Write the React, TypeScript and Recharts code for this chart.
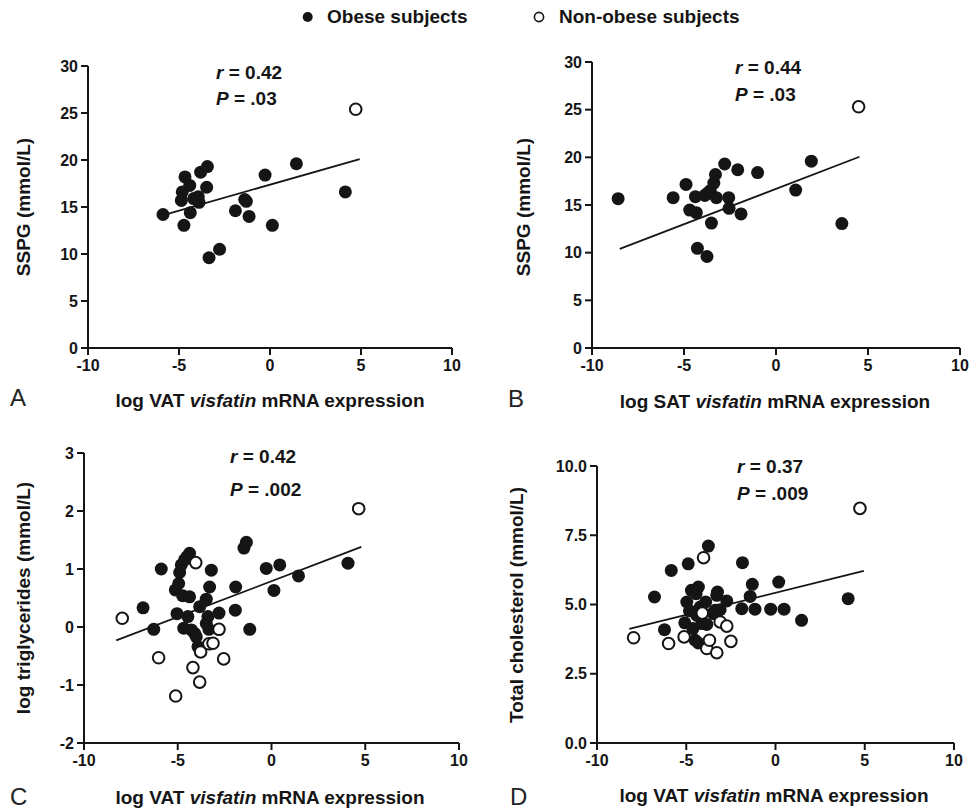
import { ScatterChart, Scatter, XAxis, YAxis, ReferenceLine } from 'recharts'

const FONT = '"Liberation Sans", Arial, sans-serif'
const INK = '#151515'

type Pt = { x: number; y: number }
const pts = (rows: number[][]): Pt[] => rows.map(([x, y]) => ({ x, y }))

const xTicks = [-10, -5, 0, 5, 10]

// A: SSPG vs log VAT visfatin
const aObese = pts([
  [-5.88, 14.2], [-4.73, 13.05], [-4.87, 15.7], [-4.82, 16.6], [-4.67, 18.2], [-4.41, 17.3],
  [-4.38, 14.4], [-4.19, 15.9], [-3.94, 16.1], [-3.9, 15.5], [-3.81, 18.7], [-3.44, 19.3],
  [-3.48, 17.1], [-3.35, 9.6], [-2.77, 10.5], [-1.9, 14.6], [-1.39, 15.8], [-1.3, 15.6],
  [-1.15, 14.0], [-0.27, 18.4], [0.13, 13.05], [1.45, 19.6], [4.14, 16.6],
])
const aNonObese = pts([[4.71, 25.4]])
const aFit = pts([[-6.1, 14.0], [4.93, 20.1]])

// B: SSPG vs log SAT visfatin
const bObese = pts([
  [-8.58, 15.66], [-5.59, 15.77], [-4.89, 17.16], [-4.69, 14.47], [-4.38, 15.87], [-4.33, 14.2],
  [-4.27, 10.46], [-3.87, 16.0], [-3.75, 9.6], [-3.57, 16.5], [-3.51, 13.1], [-3.38, 17.3],
  [-3.29, 18.2], [-3.24, 15.77], [-3.75, 16.2], [-2.79, 19.3], [-2.57, 15.77], [-2.55, 14.65],
  [-2.08, 18.7], [-1.9, 14.06], [-1.0, 18.4], [1.07, 16.57], [1.92, 19.6], [3.58, 13.05],
])
const bNonObese = pts([[4.49, 25.3]])
const bFit = pts([[-8.49, 10.39], [4.54, 20.06]])

// C: log triglycerides vs log VAT visfatin
const cObese = pts([
  [-6.85, 0.33], [-6.28, -0.04], [-5.88, 1.0], [-5.13, 0.64], [-5.04, 0.23], [-4.95, 0.75],
  [-4.9, 0.94], [-4.81, 1.07], [-4.74, 0.54], [-4.68, -0.02], [-4.63, 1.16], [-4.51, 1.21],
  [-4.46, 0.18], [-4.37, 1.27], [-4.37, 0.52], [-4.27, -0.05], [-4.1, -0.11], [-4.01, -0.17],
  [-3.92, -0.34], [-3.83, 0.35], [-3.48, 0.48], [-3.39, 0.18], [-3.48, 0.06], [-3.34, -0.04],
  [-3.3, 0.69], [-3.21, 0.98], [-2.8, 0.24], [-1.93, 0.29], [-1.91, 0.69], [-1.47, 1.36],
  [-1.34, 1.46], [-1.16, -0.04], [-0.28, 1.01], [0.13, 0.63], [0.44, 1.07], [1.44, 0.88],
  [4.08, 1.1],
])
const cNonObese = pts([
  [-7.96, 0.15], [-6.02, -0.53], [-5.11, -1.19], [-4.19, -0.7], [-4.04, 1.11], [-3.83, -0.95],
  [-3.78, -0.43], [-3.34, -0.29], [-3.12, -0.28], [-2.8, -0.04], [-2.55, -0.55], [4.65, 2.04],
])
const cFit = pts([[-8.28, -0.23], [4.79, 1.38]])

// D: total cholesterol vs log VAT visfatin
const dObese = pts([
  [-6.78, 5.27], [-6.22, 4.09], [-5.84, 6.23], [-5.08, 4.34], [-4.97, 5.09], [-4.89, 6.47],
  [-4.82, 4.77], [-4.71, 5.51], [-4.63, 4.13], [-4.5, 3.71], [-4.45, 5.39], [-4.32, 5.63],
  [-4.32, 3.61], [-4.41, 4.61], [-4.22, 4.91], [-4.13, 4.31], [-3.91, 5.09], [-3.85, 4.28],
  [-3.76, 7.11], [-3.48, 4.67], [-3.38, 4.79], [-3.29, 5.33], [-3.25, 5.45], [-3.1, 4.81],
  [-2.73, 5.13], [-1.85, 6.51], [-1.89, 4.85], [-1.42, 5.29], [-1.3, 5.73], [-1.15, 4.83],
  [-0.27, 4.83], [0.18, 5.81], [0.48, 4.83], [1.46, 4.43], [4.07, 5.21],
])
const dNonObese = pts([
  [-7.95, 3.8], [-5.99, 3.59], [-5.12, 3.83], [-4.1, 4.69], [-4.03, 6.69], [-3.85, 3.41],
  [-3.7, 3.71], [-3.29, 3.26], [-3.1, 4.37], [-2.73, 4.22], [-2.5, 3.67], [4.73, 8.47],
])
const dFit = pts([[-8.19, 4.12], [4.95, 6.21]])

const filledDot = (p: any) => <circle cx={p.cx} cy={p.cy} r={6.5} fill={INK} />
const openDot = (p: any) => (
  <circle cx={p.cx} cy={p.cy} r={5.8} fill="#fff" stroke={INK} strokeWidth={2} />
)

type Box = { x0: number; x1: number; y0: number; y1: number }

function Panel(props: {
  box: Box
  yDomain: [number, number]
  yTicks: number[]
  yFmt?: (v: number) => string
  obese: Pt[]
  nonObese: Pt[]
  fit: Pt[]
}) {
  const { box, yDomain, yTicks, yFmt, obese, nonObese, fit } = props
  // plot area lands on box: 60px y-axis on the left, 40px x-axis below
  const W = box.x1 - box.x0 + 60 + 20
  const H = box.y1 - box.y0 + 12 + 40
  const tick = { fontSize: 16, fontWeight: 700, fill: INK, fontFamily: FONT }
  const line = { stroke: INK, strokeWidth: 2 }
  return (
    <div style={{ position: 'absolute', left: box.x0 - 60, top: box.y0 - 12 }}>
      <ScatterChart width={W} height={H} margin={{ top: 12, right: 20, bottom: 0, left: 0 }}>
        <XAxis
          type="number"
          dataKey="x"
          domain={[-10, 10]}
          ticks={xTicks}
          height={40}
          tick={tick}
          tickSize={7}
          tickMargin={5}
          axisLine={line}
          tickLine={line}
          allowDataOverflow
        />
        <YAxis
          type="number"
          dataKey="y"
          domain={yDomain}
          ticks={yTicks}
          width={60}
          tick={tick}
          tickSize={7}
          tickMargin={3}
          tickFormatter={yFmt}
          axisLine={line}
          tickLine={line}
          allowDataOverflow
        />
        <ReferenceLine segment={fit} stroke={INK} strokeWidth={1.8} ifOverflow="visible" />
        <Scatter data={obese} shape={filledDot} isAnimationActive={false} />
        <Scatter data={nonObese} shape={openDot} isAnimationActive={false} />
      </ScatterChart>
    </div>
  )
}

const txt = (extra: React.CSSProperties): React.CSSProperties => ({
  position: 'absolute',
  fontFamily: FONT,
  fontWeight: 700,
  fontSize: 19,
  color: INK,
  whiteSpace: 'nowrap',
  lineHeight: 1,
  ...extra,
})

function Stat({ left, top, gap, r, p }: { left: number; top: number; gap: number; r: string; p: string }) {
  return (
    <>
      <div style={txt({ left, top })}>
        <i>r</i> = {r}
      </div>
      <div style={txt({ left, top: top + gap })}>
        <i>P</i> = {p}
      </div>
    </>
  )
}

function XTitle({ cx, cy, site }: { cx: number; cy: number; site: string }) {
  return (
    <div style={txt({ left: cx, top: cy, transform: 'translate(-50%, -50%)' })}>
      log {site} <i>visfatin</i> mRNA expression
    </div>
  )
}

function YTitle({ cx, cy, text }: { cx: number; cy: number; text: string }) {
  return (
    <div style={txt({ left: cx, top: cy, transform: 'translate(-50%, -50%) rotate(-90deg)' })}>
      {text}
    </div>
  )
}

function Letter({ left, cy, ch }: { left: number; cy: number; ch: string }) {
  return (
    <div style={txt({ left, top: cy - 12, fontWeight: 400, fontSize: 24, color: '#222' })}>{ch}</div>
  )
}

export default function App() {
  return (
    <div style={{ position: 'absolute', left: 0, top: 0, width: 971, height: 809, background: '#fff' }}>
      {/* legend */}
      <svg style={{ position: 'absolute', left: 300, top: 10 }} width={16} height={16}>
        <circle cx={7.7} cy={7} r={5} fill={INK} />
      </svg>
      <div style={txt({ left: 327, top: 7 })}>Obese subjects</div>
      <svg style={{ position: 'absolute', left: 532, top: 10 }} width={16} height={16}>
        <circle cx={7} cy={7} r={4.6} fill="#fff" stroke={INK} strokeWidth={1.6} />
      </svg>
      <div style={txt({ left: 559, top: 7 })}>Non-obese subjects</div>

      <Panel
        box={{ x0: 88, x1: 452, y0: 66, y1: 348 }}
        yDomain={[0, 30]}
        yTicks={[0, 5, 10, 15, 20, 25, 30]}
        obese={aObese}
        nonObese={aNonObese}
        fit={aFit}
      />
      <Panel
        box={{ x0: 592, x1: 960, y0: 62, y1: 348 }}
        yDomain={[0, 30]}
        yTicks={[0, 5, 10, 15, 20, 25, 30]}
        obese={bObese}
        nonObese={bNonObese}
        fit={bFit}
      />
      <Panel
        box={{ x0: 84, x1: 459, y0: 453, y1: 743 }}
        yDomain={[-2, 3]}
        yTicks={[-2, -1, 0, 1, 2, 3]}
        obese={cObese}
        nonObese={cNonObese}
        fit={cFit}
      />
      <Panel
        box={{ x0: 597, x1: 954, y0: 466, y1: 743 }}
        yDomain={[0, 10]}
        yTicks={[0, 2.5, 5, 7.5, 10]}
        yFmt={(v) => v.toFixed(1)}
        obese={dObese}
        nonObese={dNonObese}
        fit={dFit}
      />

      <Stat left={216} top={63} gap={26} r="0.42" p=".03" />
      <Stat left={735} top={58} gap={27} r="0.44" p=".03" />
      <Stat left={230} top={447} gap={33} r="0.42" p=".002" />
      <Stat left={737} top={457} gap={27} r="0.37" p=".009" />

      <YTitle cx={23} cy={207} text="SSPG (mmol/L)" />
      <YTitle cx={523} cy={207} text="SSPG (mmol/L)" />
      <YTitle cx={23} cy={598} text="log triglycerides (mmol/L)" />
      <YTitle cx={516} cy={605} text="Total cholesterol (mmol/L)" />

      <XTitle cx={270} cy={400} site="VAT" />
      <XTitle cx={775} cy={401} site="SAT" />
      <XTitle cx={270} cy={797} site="VAT" />
      <XTitle cx={774} cy={795} site="VAT" />

      <Letter left={10} cy={398} ch="A" />
      <Letter left={508} cy={399} ch="B" />
      <Letter left={10} cy={797} ch="C" />
      <Letter left={510} cy={797} ch="D" />
    </div>
  )
}
